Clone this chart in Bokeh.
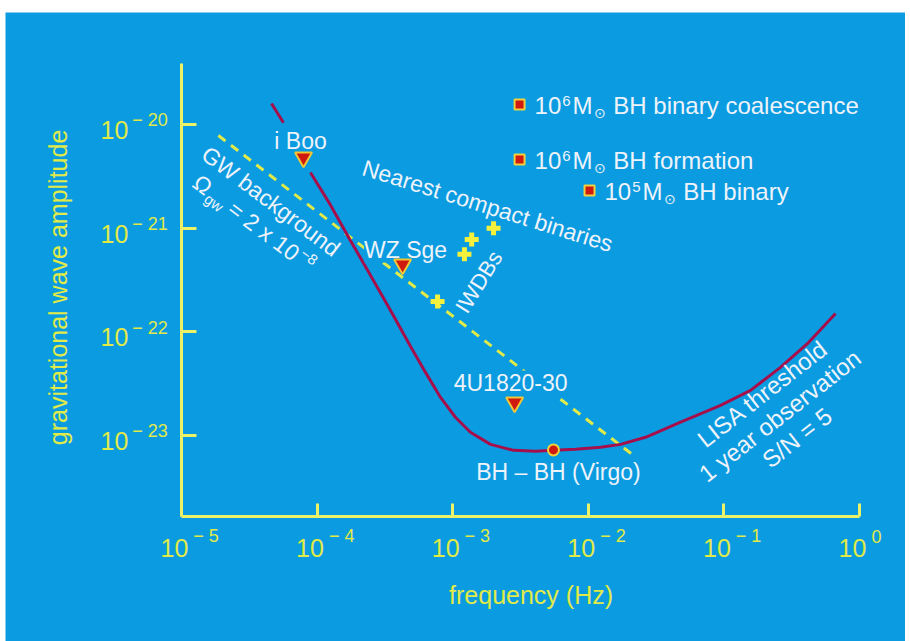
import math
from bokeh.plotting import figure
from bokeh.models import Label, FixedTicker, Range1d, CustomJSTickFormatter
from bokeh.embed import file_html
from bokeh.resources import INLINE

NaN = float("nan")

# ---------------- data ----------------
# LISA threshold curve (1 year observation, S/N = 5); NaN = gap behind the "i Boo" label
lisa_freq = [4.61e-5, 5.65e-5, NaN, 8.93e-5, 1.26e-4, 1.76e-4, 2.48e-4, 3.48e-4, 4.89e-4,
             6.30e-4, 8.13e-4, 1.05e-3, 1.35e-3, 1.90e-3, 2.81e-3, 4.08e-3, 5.53e-3,
             8.05e-3, 1.23e-2, 1.73e-2, 2.64e-2, 4.79e-2, 9.44e-2, 0.157, 0.261, 0.414, 0.665]
lisa_h = [1.59e-20, 1.04e-20, NaN, 3.45e-21, 1.66e-21, 7.62e-22, 3.51e-22, 1.61e-22, 7.26e-23,
          4.08e-23, 2.34e-23, 1.50e-23, 1.08e-23, 8.26e-24, 7.23e-24, 7.08e-24, 7.23e-24,
          7.40e-24, 7.73e-24, 8.26e-24, 9.66e-24, 1.35e-23, 1.96e-23, 2.74e-23, 4.56e-23,
          7.76e-23, 1.51e-22]

# GW background, Omega_gw = 2e-8
gw_freq = [1.87e-5, 2.15e-2]
gw_h = [7.83e-21, 6.47e-24]

# nearest compact binaries (triangles)
binary_names = ["i Boo", "WZ Sge", "4U1820-30"]
binary_freq = [7.94e-5, 4.27e-4, 2.86e-3]
binary_h = [4.81e-21, 4.48e-22, 2.10e-23]

# IWDBs (crosses)
iwdb_freq = [2.00e-3, 1.38e-3, 1.22e-3, 7.73e-4]
iwdb_h = [1.00e-21, 7.80e-22, 5.60e-22, 1.97e-22]

# BH - BH (Virgo)
bhbh_freq = [5.53e-3]
bhbh_h = [7.30e-24]

# massive black hole sources (squares)
mbh_freq = [3.11e-3, 3.11e-3, 1.02e-2]
mbh_h = [1.56e-20, 4.60e-21, 2.31e-21]
mbh_mass_exp = ["6", "6", "5"]
mbh_desc = ["BH binary coalescence", "BH formation", "BH binary"]

# axes
x_ticks = [1e-5, 1e-4, 1e-3, 1e-2, 1e-1, 1.0]
x_tick_exp = ["\u2212 5", "\u2212 4", "\u2212 3", "\u2212 2", "\u2212 1", "0"]
y_ticks = [1e-20, 1e-21, 1e-22, 1e-23]
y_tick_exp = ["\u2212 20", "\u2212 21", "\u2212 22", "\u2212 23"]
x_axis_min, x_axis_max = 1e-5, 1.0
y_axis_min, y_axis_max = 1.67e-24, 3.87e-20
# visible window (blue panel) around the axes
x_view = (5.04e-7, 2.18)
y_view = (1.04e-25, 1.20e-19)

# ---------------- style ----------------
BLUE = "#0a9be0"
YELLOW = "#e0ea48"
AXIS = "#ecf168"
WHITE = "#eef3fa"
CRIMSON = "#a5104c"
RED = "#d01a10"
EDGE = "#f2c634"
FONT = "Liberation Sans"
BASE_FIX = 0.3  # em: lift alphabetic baselines to where the text sits in the original

EM = {"0": .556, "1": .556, "2": .556, "3": .556, "4": .556, "5": .556, "6": .556, "7": .556,
      "8": .556, "9": .556, " ": .278, "\u2212": .584, "=": .584, "x": .5, "\u03a9": .768,
      "g": .556, "w": .722, "M": .833, "\u2299": .84}


def tw(s, size):
    return sum(EM.get(ch, 0.556) for ch in s) * size


p = figure(width=905, height=641, x_axis_type="log", y_axis_type="log",
           x_range=Range1d(*x_view), y_range=Range1d(*y_view),
           output_backend="svg", toolbar_location=None,
           min_border_left=5, min_border_right=0, min_border_top=12, min_border_bottom=0)
p.background_fill_color = BLUE
p.border_fill_color = "white"
p.outline_line_color = None
p.grid.visible = False

p.xaxis.bounds = (x_axis_min, x_axis_max)
p.yaxis.bounds = (y_axis_min, y_axis_max)
p.xaxis.fixed_location = y_axis_min
p.yaxis.fixed_location = x_axis_min

for ax, ticks, tin in ((p.xaxis, x_ticks, 13), (p.yaxis, y_ticks, 15)):
    ax.ticker = FixedTicker(ticks=ticks)
    ax.formatter = CustomJSTickFormatter(code="return ''")
    ax.axis_line_color = AXIS
    ax.axis_line_width = 3
    ax.major_tick_line_color = AXIS
    ax.major_tick_line_width = 3
    ax.major_tick_in = tin
    ax.major_tick_out = 0
    ax.minor_tick_line_color = None


def place_runs(x, y, runs, angle_deg=0.0, dx=0.0, dy=0.0, color=WHITE):
    a = math.radians(angle_deg)
    c, s = math.cos(a), math.sin(a)
    adv = 0.0
    for text, size, shift, gap in runs:
        adv += gap
        sh = shift + BASE_FIX * size
        ox = dx + adv * c - sh * s
        oy = dy + adv * s + sh * c
        p.add_layout(Label(x=x, y=y, x_offset=ox, y_offset=oy, text=text, angle=a,
                           text_font=FONT, text_font_size=f"{size}px", text_color=color,
                           text_align="left", text_baseline="alphabetic"))
        adv += tw(text, size)


def label(x, y, text, size=23, dx=0, dy=0, angle_deg=0.0, align="center",
          baseline="alphabetic", color=WHITE, bg=None):
    kw = {}
    if bg is not None:
        kw = dict(background_fill_color=bg, background_fill_alpha=1.0)
    a = math.radians(angle_deg)
    if baseline == "alphabetic":
        dx -= BASE_FIX * size * math.sin(a)
        dy += BASE_FIX * size * math.cos(a)
    p.add_layout(Label(x=x, y=y, x_offset=dx, y_offset=dy, text=text,
                       angle=a, text_font=FONT,
                       text_font_size=f"{size}px", text_color=color,
                       text_align=align, text_baseline=baseline, **kw))


# tick labels
for t, e in zip(x_ticks, x_tick_exp):
    place_runs(t, y_axis_min, [("10", 25, 0, 0), (e, 18, 14, 5)], dx=-21, dy=-39, color=YELLOW)
for t, e in zip(y_ticks, y_tick_exp):
    place_runs(x_axis_min, t, [("10", 25, 0, 0), (e, 18, 12, 4)], dx=-81, dy=-13, color=YELLOW)

# axis titles
label(3.78e-3, y_axis_min, "frequency (Hz)", size=25, dy=-86, color=YELLOW)
label(x_axis_min, 2.69e-22, "gravitational wave amplitude", size=25, dx=-123, angle_deg=90,
      baseline="middle", color=YELLOW)

# lines
p.line(gw_freq, gw_h, line_color=YELLOW, line_width=3, line_dash="9 7")
p.line(lisa_freq, lisa_h, line_color=CRIMSON, line_width=3)

# source labels (knock-out background where a line runs under the text)
label(binary_freq[0], binary_h[0], binary_names[0], size=23, dx=-3, dy=10, bg=BLUE)
label(binary_freq[1], binary_h[1], binary_names[1], size=23, dx=3, dy=8, bg=BLUE)
label(binary_freq[2], binary_h[2], binary_names[2], size=23, dx=-4, dy=12, bg=BLUE)
label(bhbh_freq[0], bhbh_h[0], "BH \u2013 BH (Virgo)", size=23, dx=5, dy=-29)

# massive BH legend-like labels
for f, h, e, d in zip(mbh_freq, mbh_h, mbh_mass_exp, mbh_desc):
    place_runs(f, h, [("10", 24, 0, 0), (e, 15, 7, 1), ("M", 24, 0, 2),
                      ("\u2299", 14, -5, 1), (d, 24, 0, 8)], dx=15, dy=-8)

# rotated annotations: GW background (parallel to, just below, the dashed line)
gw_anchor = (4.53e-5, 1.79e-21)
GW_ANG = -37
a = math.radians(GW_ANG)
dvec = (math.cos(a), math.sin(a))
down = (math.sin(a), -math.cos(a))
push = 6  # px further below the dashed line
label(gw_anchor[0], gw_anchor[1], "GW background", size=23, angle_deg=GW_ANG,
      dx=push * down[0], dy=push * down[1])
sx = -73 * dvec[0] + (28 + push) * down[0]
sy = -73 * dvec[1] + (28 + push) * down[1]
place_runs(gw_anchor[0], gw_anchor[1],
           [("\u03a9", 23, 0, 0), ("gw", 15, -5, 1), ("= 2 x 10", 23, 0, 6), ("\u22128", 15, 9, 2)],
           angle_deg=GW_ANG, dx=sx, dy=sy)

label(1.75e-3, 1.36e-21, "Nearest compact binaries", size=23, angle_deg=-17.3, dy=2)
label(1.56e-3, 3.04e-22, "IWDBs", size=22, angle_deg=58, baseline="middle")

lisa_lines = ["LISA threshold", "1 year observation", "S/N = 5"]
b = math.radians(38)
for k, txt in enumerate(lisa_lines):
    off = k * 28 + 5
    label(0.197, 2.45e-23, txt, size=24, angle_deg=38,
          dx=off * math.sin(b), dy=-off * math.cos(b))

# markers (drawn on top of label backgrounds)
r1 = p.scatter(iwdb_freq, iwdb_h, marker="cross", size=14, line_color="#f4f03c", line_width=5)
r2 = p.scatter(binary_freq, binary_h, marker="inverted_triangle", size=17, fill_color=RED,
               line_color=EDGE, line_width=2)
r3 = p.scatter(bhbh_freq, bhbh_h, marker="circle", size=11, fill_color=RED,
               line_color="#f2d23c", line_width=2)
r4 = p.scatter(mbh_freq, mbh_h, marker="square", size=10, fill_color=RED,
               line_color="#f2d23c", line_width=2)
for r in (r1, r2, r3, r4):
    r.level = "overlay"

open("out.html", "w").write(file_html(p, INLINE))
